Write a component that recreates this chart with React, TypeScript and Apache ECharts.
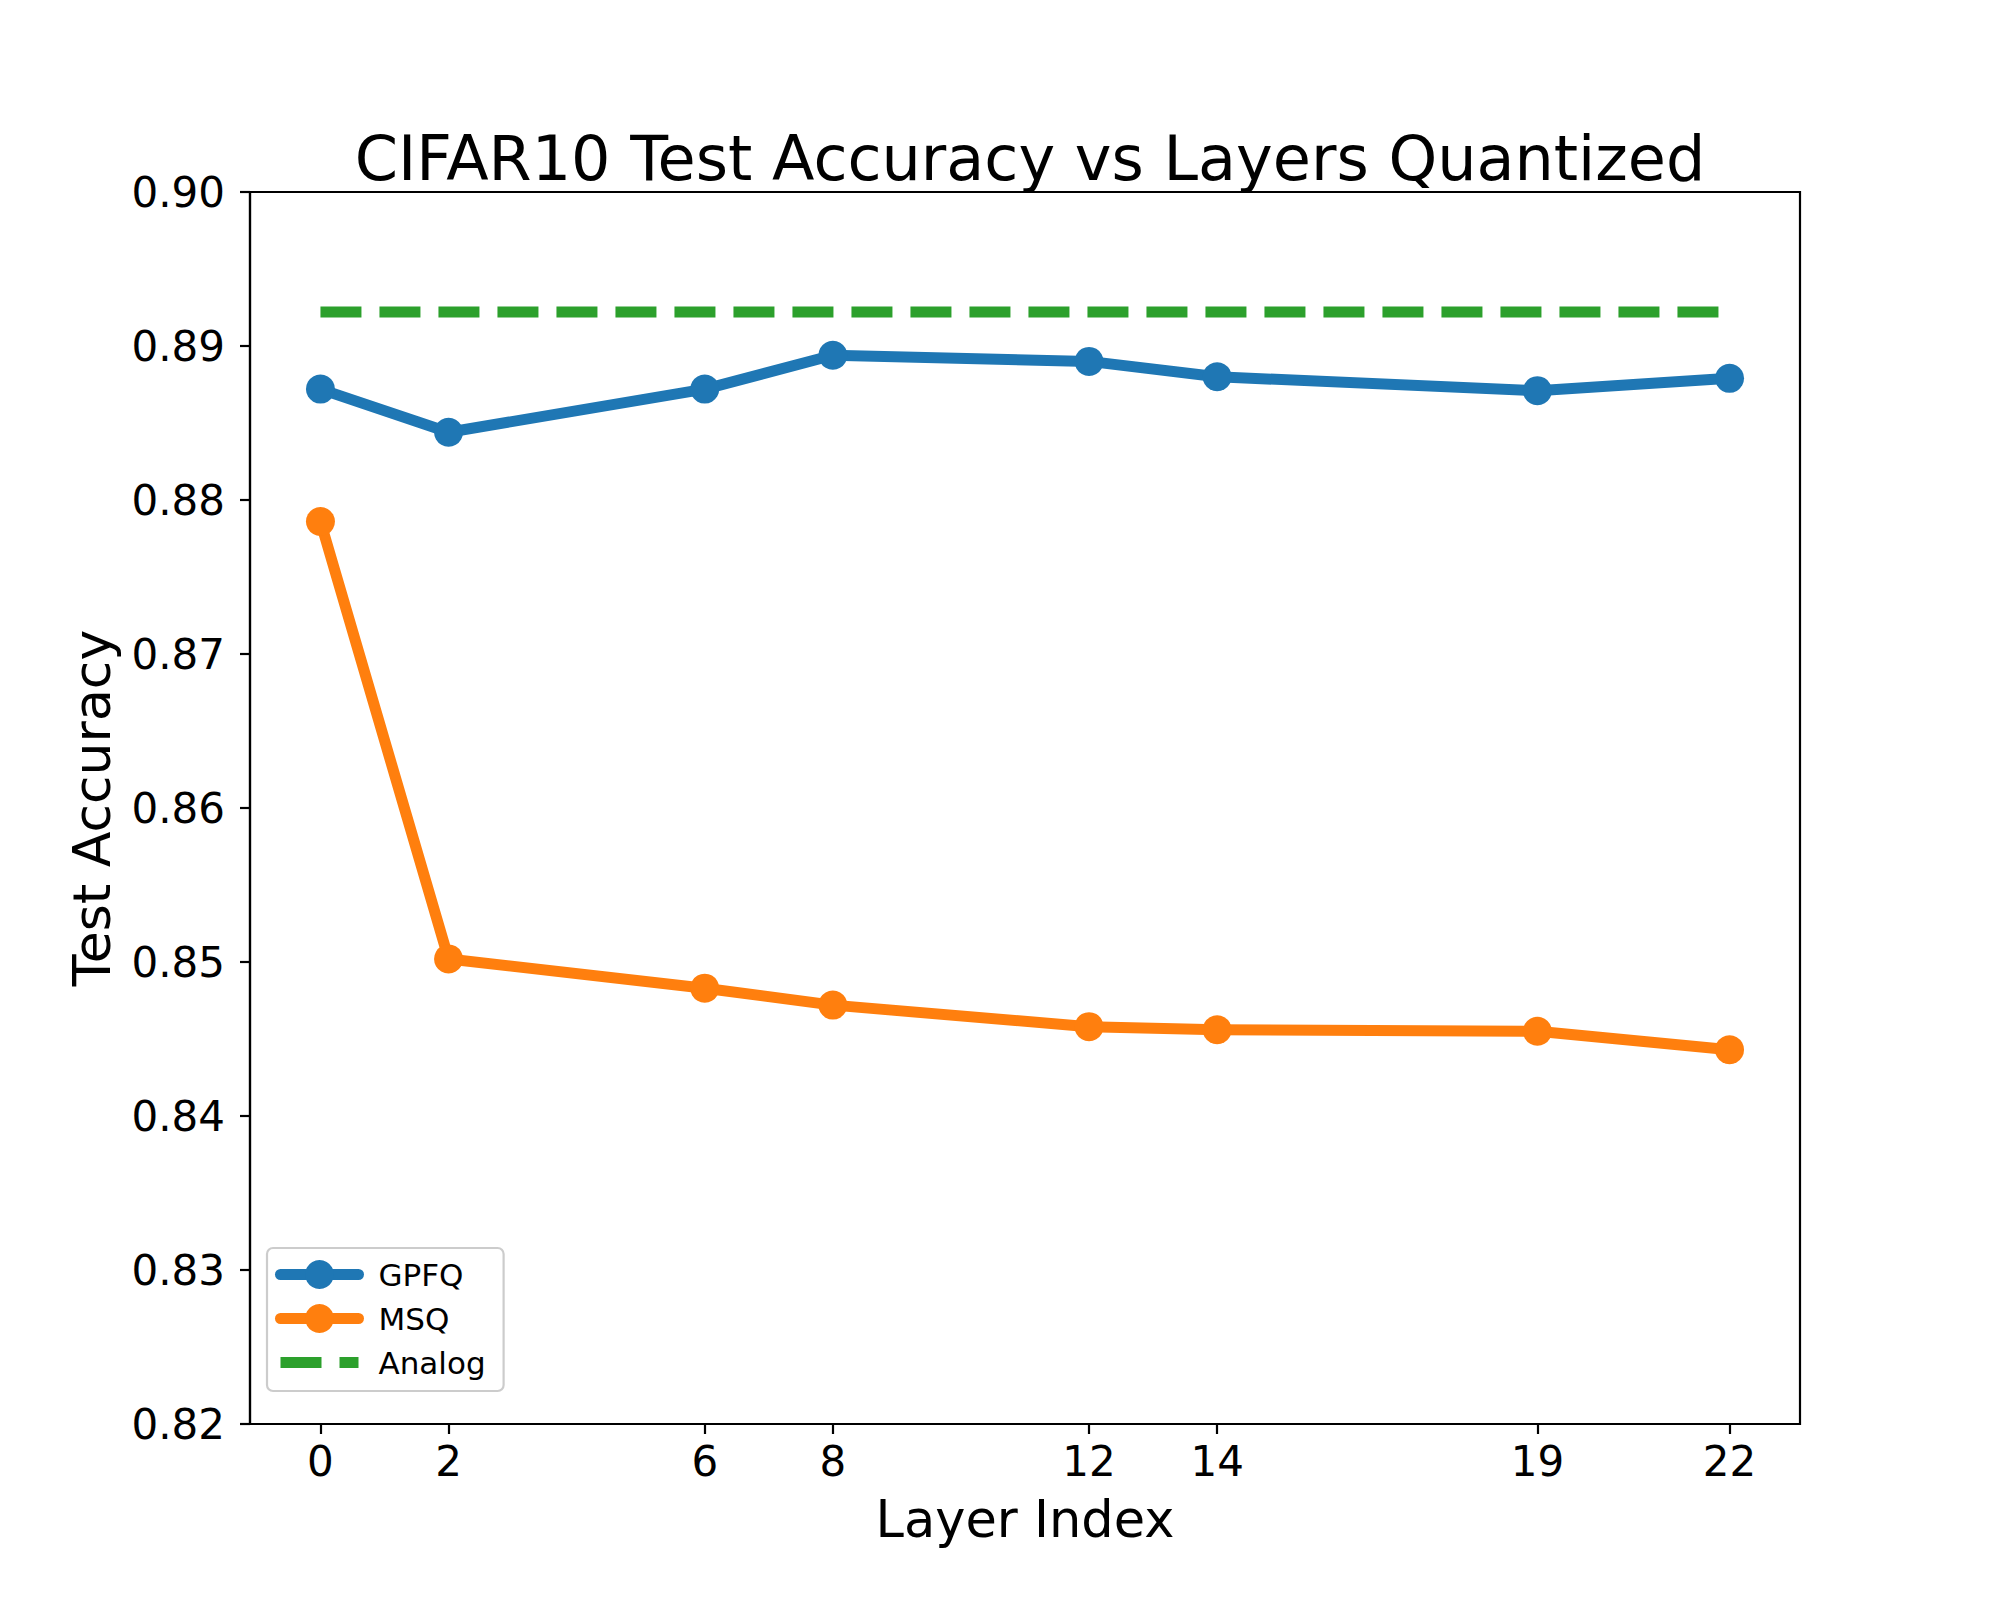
import React, { useEffect, useRef } from "react";
import * as echarts from "echarts";

const layers = [0, 2, 6, 8, 12, 14, 19, 22];
const gpfqAcc = [0.8872, 0.8844, 0.8872, 0.8894, 0.889, 0.888, 0.8871, 0.8879];
const msqAcc = [0.8786, 0.8502, 0.8483, 0.8472, 0.8458, 0.8456, 0.8455, 0.8443];
const analogAcc = 0.8922;
const yTicks = [0.82, 0.83, 0.84, 0.85, 0.86, 0.87, 0.88, 0.89, 0.9];

const FONT = "DejaVu Sans";

export default function App() {
  const ref = useRef<HTMLDivElement>(null);
  useEffect(() => {
    document.body.style.margin = "0";
    const chart = echarts.init(ref.current!, null, { renderer: "svg" });
    const pair = (vals: number[]) => layers.map((x, i) => [x, vals[i]]);
    chart.setOption({
      animation: false,
      backgroundColor: "#ffffff",
      title: {
        text: "CIFAR10 Test Accuracy vs Layers Quantized",
        left: 1025,
        top: 122,
        textAlign: "center",
        textStyle: {
          fontFamily: FONT,
          fontSize: 62,
          lineHeight: 62,
          fontWeight: "normal",
          color: "#000",
        },
      },
      grid: {
        left: 250,
        right: 200,
        top: 192,
        bottom: 176,
        show: true,
        borderColor: "#000",
        borderWidth: 2.2,
        backgroundColor: "transparent",
        containLabel: false,
        outerBoundsMode: "none",
      },
      legend: {
        orient: "vertical",
        left: 267,
        top: 1248,
        padding: [11, 18, 13, 8],
        itemGap: 13,
        itemWidth: 78,
        itemHeight: 36,
        backgroundColor: "rgba(255,255,255,0.8)",
        borderColor: "#cccccc",
        borderWidth: 2.2,
        borderRadius: 6,
        lineStyle: { width: 11 },
        textStyle: {
          fontFamily: FONT,
          fontSize: 31,
          color: "#000",
          padding: [0, 0, 0, 15],
        },
        data: [
          { name: "GPFQ" },
          { name: "MSQ" },
          { name: "Analog", itemStyle: { opacity: 0 } },
        ],
      },
      xAxis: {
        type: "value",
        min: -1.1,
        max: 23.1,
        name: "Layer Index",
        nameLocation: "middle",
        nameGap: 69,
        nameTextStyle: {
          fontFamily: FONT,
          fontSize: 51,
          lineHeight: 52,
          color: "#000",
        },
        axisLine: { onZero: false, lineStyle: { color: "#000", width: 2.2 } },
        axisTick: {
          show: true,
          length: 10,
          lineStyle: { color: "#000", width: 2.2 },
          customValues: layers,
        },
        axisLabel: {
          customValues: layers,
          fontFamily: FONT,
          fontSize: 42,
          lineHeight: 42,
          color: "#000",
          margin: 16,
        },
        splitLine: { show: false },
      },
      yAxis: {
        type: "value",
        min: 0.82,
        max: 0.9,
        interval: 0.01,
        name: "Test Accuracy",
        nameLocation: "middle",
        nameGap: 132,
        nameTextStyle: {
          fontFamily: FONT,
          fontSize: 52,
          lineHeight: 52,
          color: "#000",
        },
        axisLine: { show: true, onZero: false, lineStyle: { color: "#000", width: 2.2 } },
        axisTick: {
          show: true,
          length: 10,
          lineStyle: { color: "#000", width: 2.2 },
          customValues: yTicks,
        },
        axisLabel: {
          customValues: yTicks,
          fontFamily: FONT,
          fontSize: 42,
          color: "#000",
          margin: 25,
          formatter: (v: number) => v.toFixed(2),
        },
        splitLine: { show: false },
      },
      series: [
        {
          name: "GPFQ",
          type: "line",
          data: pair(gpfqAcc),
          symbol: "circle",
          symbolSize: 29,
          color: "#1f77b4",
          lineStyle: { width: 11, color: "#1f77b4", join: "round", cap: "round" },
          itemStyle: { color: "#1f77b4" },
          z: 3,
        },
        {
          name: "MSQ",
          type: "line",
          data: pair(msqAcc),
          symbol: "circle",
          symbolSize: 29,
          color: "#ff7f0e",
          lineStyle: { width: 11, color: "#ff7f0e", join: "round", cap: "round" },
          itemStyle: { color: "#ff7f0e" },
          z: 3,
        },
        {
          name: "Analog",
          type: "line",
          data: layers.map((x) => [x, analogAcc]),
          showSymbol: false,
          symbol: "circle",
          color: "#2ca02c",
          lineStyle: { width: 11, color: "#2ca02c", type: [41, 18], cap: "butt" },
          itemStyle: { color: "#2ca02c" },
          z: 3,
        },
      ],
    });
    return () => chart.dispose();
  }, []);
  return <div ref={ref} style={{ width: 2000, height: 1600 }} />;
}
